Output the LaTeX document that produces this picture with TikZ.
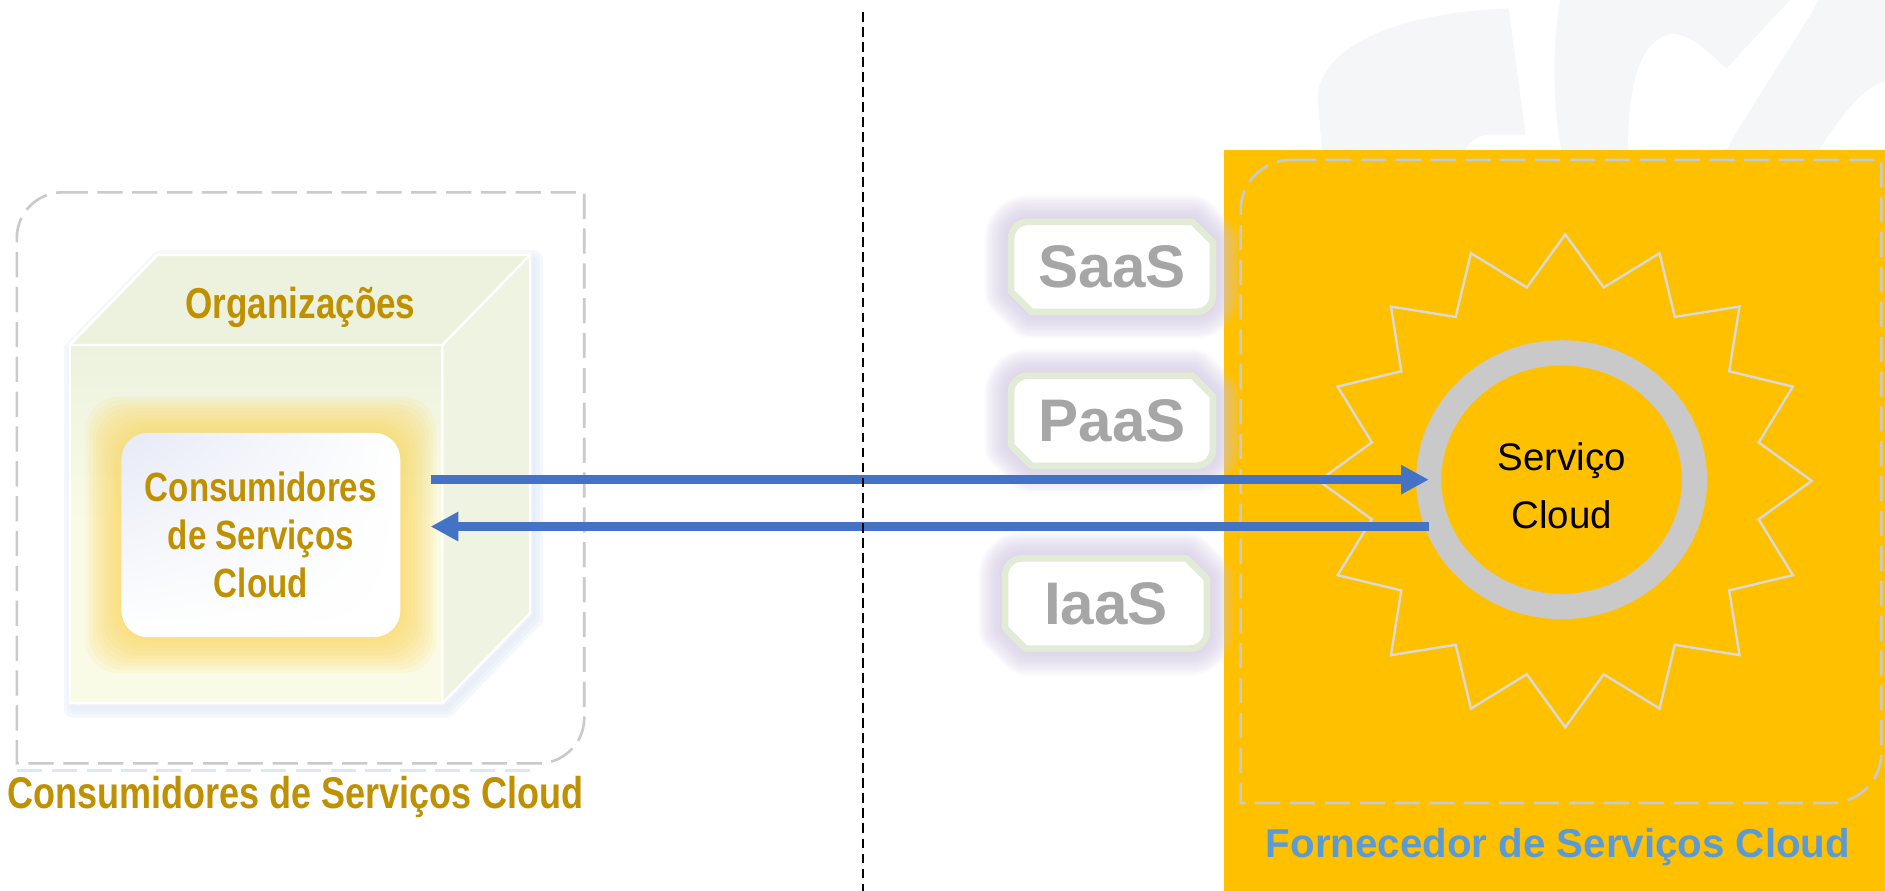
\documentclass[tikz,border=0pt]{standalone}
\usepackage{fontspec}
\setmainfont{Liberation Sans}
\newfontfamily\narrowsans{Liberation Sans}[FakeStretch=0.81]
\usetikzlibrary{arrows.meta, shapes.geometric, shadings}

\definecolor{gold}{HTML}{BF9000}
\definecolor{flowblue}{HTML}{4472C4}
\definecolor{provblue}{HTML}{5B9BD5}
\definecolor{provorange}{HTML}{FFC000}
\definecolor{ringgray}{HTML}{C9C9C9}
\definecolor{taggray}{HTML}{A6A6A6}
\definecolor{tagedge}{HTML}{E2EBD6}
\definecolor{taglow}{HTML}{CFC6E2}
\definecolor{dashgray}{HTML}{CACACA}
\definecolor{provdash}{HTML}{C6CAD2}
\definecolor{burstgray}{HTML}{D9D9D9}
\definecolor{cubefront}{HTML}{FAFBE6}
\definecolor{cubetop}{HTML}{ECF2DE}
\definecolor{cubeside}{HTML}{EFF3E2}
\definecolor{cubeshade}{HTML}{DCE7F4}
\definecolor{yglow}{HTML}{FFD75E}
\definecolor{innerblue}{HTML}{E6EAF6}
\definecolor{wmgray}{HTML}{F5F6F8}

\begin{document}
\begin{tikzpicture}
[x=1pt, y=-1pt, font=\bfseries,
every node/.style={inner sep=0pt, align=center},
boxline/.style={draw=dashgray, line width=2.2pt, dash pattern=on 21pt off 8pt},
divider/.style={draw=black, line width=1.7pt, dash pattern=on 8pt off 4.5pt},
flow/.style={draw=flowblue, line width=7pt, -{Triangle[length=23pt, width=23pt]}},
goldtext/.style={text=gold, font=\narrowsans\bfseries\fontsize{#1}{40}\selectfont},
consbox/.style={rectangle, rounded corners=22pt, minimum width=232pt, minimum height=170pt,
  shade, upper left=innerblue, upper right=white, lower left=white, lower right=white, goldtext=34},
tagbox/.style={draw=tagedge, fill=white, line width=5.5pt, line join=round},
tagglow/.style={draw=taglow, line join=round, opacity=0.11},
tag/.style={text=taggray, font=\bfseries\fontsize{50}{50}\selectfont},
burst/.style={star, star points=16, star point ratio=1.25, minimum size=410pt, draw=burstgray, line width=2pt},
ring/.style={ellipse, draw=ringgray, line width=21pt, outer sep=0pt, minimum width=221pt, minimum height=211pt,
  text=black, text height=81pt, font=\mdseries\fontsize{32}{48}\selectfont}
]

\useasboundingbox (0,0) rectangle (1568,741);

% faint watermark behind the provider side
\begin{scope}[fill=wmgray]
\fill (1255,7) .. controls (1170,10) and (1100,35) .. (1096,80) -- (1100,130) -- (1214,130)
  .. controls (1222,118) and (1230,112) .. (1240,112) -- (1269,112) -- cycle;
\fill (1298,0) .. controls (1290,40) and (1292,95) .. (1300,130) -- (1354,130)
  .. controls (1354,80) and (1360,35) .. (1390,28) .. controls (1405,28) and (1420,42) .. (1436,57)
  -- (1489,0) -- cycle;
\fill (1513,0) .. controls (1490,40) and (1455,90) .. (1433,130) -- (1510,130)
  .. controls (1525,105) and (1550,70) .. (1568,68) -- (1568,0) -- cycle;
\end{scope}

% consumer side
\draw[cubeshade, line width=2.2pt, dash pattern=on 21pt off 8pt] (14,641) -- (448,641);
\path[boxline] (52,160) -- (486,160) -- (486,597) arc (0:90:38) -- (14,635) -- (14,198) arc (180:270:38) -- cycle;

\foreach \w in {16,10,4}
  \draw[cubeshade, opacity=0.3, line width=\w pt, line join=round]
    (61,291) -- (134,216) -- (444,216) -- (444,514) -- (371,589) -- (61,589) -- cycle;
\fill[cubeside] (368,287) -- (441,212) -- (441,510) -- (368,585) -- cycle;
\fill[cubetop] (58,287) -- (131,212) -- (441,212) -- (368,287) -- cycle;
\shade[top color=cubetop, bottom color=cubefront, middle color=cubefront] (58,287) rectangle (368,585);
\draw[white, line width=2pt, line join=round]
  (58,287) -- (131,212) -- (441,212) -- (441,510) -- (368,585) -- (58,585) -- cycle
  (58,287) -- (368,287) -- (441,212) (368,287) -- (368,585);

\foreach \s in {30,27,...,3}
  \fill[yglow, opacity=0.11, rounded corners=28pt] (101-\s,360-\s) rectangle (333+\s,530+\s);
\node[consbox] (cons) at (217,445) {Consumidores\\de Serviços\\Cloud};
\node[goldtext=36] (org) at (250,256) {Organizações};
\node[goldtext=37] (consLabel) at (246,663) {Consumidores de Serviços Cloud};

% provider side
\fill[provorange] (1018,125) rectangle (1568,741);
\path[boxline, draw=provdash] (1074,133) -- (1565,133) -- (1565,626) arc (0:90:42) -- (1032,668) -- (1032,175) arc (180:270:42) -- cycle;
\node[text=provblue, font=\bfseries\fontsize{33.5}{40}\selectfont] (provLabel) at (1296,705) {Fornecedor de Serviços Cloud};

% service models
\foreach \n/\t/\cx/\cy in {saas/SaaS/925/222, paas/PaaS/925/350, iaas/IaaS/920/502}
{
  \foreach \w in {44,40,...,8}
    \draw[tagglow, line width=\w pt] (\cx-70,\cy-37.5) -- (\cx+67,\cy-37.5) -- (\cx+84,\cy-20.5) -- (\cx+84,\cy+23.5)
      arc (0:90:14) -- (\cx-67,\cy+37.5) -- (\cx-84,\cy+20.5) -- (\cx-84,\cy-23.5) arc (180:270:14) -- cycle;
  \draw[tagbox] (\cx-70,\cy-37.5) -- (\cx+67,\cy-37.5) -- (\cx+84,\cy-20.5) -- (\cx+84,\cy+23.5)
      arc (0:90:14) -- (\cx-67,\cy+37.5) -- (\cx-84,\cy+20.5) -- (\cx-84,\cy-23.5) arc (180:270:14) -- cycle;
  \node[tag] (\n) at (\cx,\cy) {\t};
}

\node[burst] (burst) at (1302,400) {};
\node[ring] (ring) at (1299,399) {Serviço\\Cloud};

% requests and responses
\coordinate (out) at ([xshift=25pt]cons.east);
\draw[flow] (out |- ring.west) -- (ring.west);
\draw[flow] ([yshift=-39pt]ring.west) -- (out |- 0,438);

\coordinate (divtop) at (718,10);
\coordinate (divbot) at (718,741);
\draw[divider] (divtop) -- (divbot);

\end{tikzpicture}
\end{document}
